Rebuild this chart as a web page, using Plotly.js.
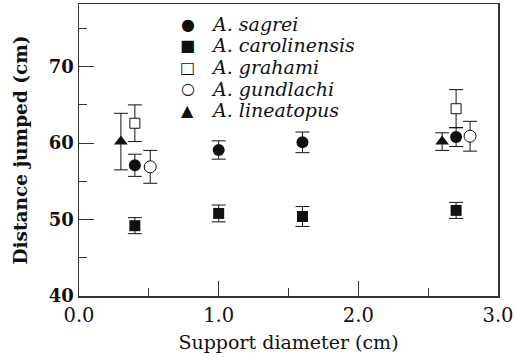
<!DOCTYPE html>
<html>
<head>
<meta charset="utf-8">
<script src="https://cdn.plot.ly/plotly-3.0.1.min.js"></script>
<style>html,body{margin:0;padding:0;background:#fff;}#chart{width:515px;height:358px;}</style>
</head>
<body>
<div id="chart"></div>
<script>
// Species names (legend)
const species = ["A. sagrei", "A. carolinensis", "A. grahami", "A. gundlachi", "A. lineatopus"];

// Support diameter (cm), slightly offset per species as in the figure
const sagreiX = [0.40, 1.00, 1.60, 2.70];
const sagreiY = [57.1, 59.1, 60.1, 60.8];
const sagreiErr = [1.45, 1.2, 1.35, 1.25];

const carolinensisX = [0.40, 1.00, 1.60, 2.70];
const carolinensisY = [49.2, 50.8, 50.4, 51.2];
const carolinensisErr = [1.05, 1.1, 1.3, 1.05];

const grahamiX = [0.40, 2.70];
const grahamiY = [62.6, 64.5];
const grahamiErr = [2.4, 2.5];

const gundlachiX = [0.51, 2.80];
const gundlachiY = [56.9, 60.9];
const gundlachiErr = [2.15, 1.95];

const lineatopusX = [0.30, 2.60];
const lineatopusY = [60.2, 60.2];
const lineatopusErr = [3.7, 1.15];

// Legend glyphs
const legendGlyphs = ["\u25CF", "\u25A0", "\u25A1", "\u25CB", "\u25B2"];

const INK = "#111111";

function errBar(arr) {
  return {type: "data", array: arr, visible: true, color: INK, thickness: 1, width: 7};
}

const traces = [
  {x: lineatopusX, y: lineatopusY, error_y: errBar(lineatopusErr),
   marker: {symbol: "triangle-up", size: 12, color: INK}},
  {x: grahamiX, y: grahamiY, error_y: errBar(grahamiErr),
   marker: {symbol: "square", size: 10, color: "#ffffff", line: {color: INK, width: 1}}},
  {x: sagreiX, y: sagreiY, error_y: errBar(sagreiErr),
   marker: {symbol: "circle", size: 12, color: INK}},
  {x: carolinensisX, y: carolinensisY, error_y: errBar(carolinensisErr),
   marker: {symbol: "square", size: 11, color: INK}},
  {x: gundlachiX, y: gundlachiY, error_y: errBar(gundlachiErr),
   marker: {symbol: "circle", size: 12, color: "#ffffff", line: {color: INK, width: 1}}}
].map(t => Object.assign({type: "scatter", mode: "markers", showlegend: false, hoverinfo: "skip"}, t));

// Legend built from annotations (row layout)
const annotations = [];
const rowTop = 24, rowStep = 21.5, plotTop = 4, plotH = 292;
species.forEach((name, i) => {
  const py = rowTop + i * rowStep;
  const yp = (plotTop + plotH - py) / plotH;
  annotations.push({xref: "paper", yref: "paper", x: 0.260, y: yp, xanchor: "center", yanchor: "middle",
    text: legendGlyphs[i], showarrow: false, borderpad: 0, font: {family: "DejaVu Sans", size: 16, color: INK}});
  annotations.push({xref: "paper", yref: "paper", x: 0.313, y: yp, xanchor: "left", yanchor: "middle",
    text: "<i>" + name + "</i>", showarrow: false, borderpad: 0, font: {family: "DejaVu Serif", size: 19, color: INK}});
});

const axisCommon = {
  showline: true, mirror: true, linecolor: "#333333", linewidth: 1.5,
  showgrid: false, zeroline: false,
  ticks: "inside", ticklen: 15, tickwidth: 1, tickcolor: "#333333",
};

const layout = {
  width: 515, height: 358,
  margin: {l: 79, r: 17, t: 4, b: 62},
  paper_bgcolor: "#ffffff", plot_bgcolor: "#ffffff",
  font: {family: "DejaVu Serif", color: INK, size: 17},
  showlegend: false,
  xaxis: Object.assign({}, axisCommon, {
    range: [0, 3], tick0: 0, dtick: 1, tickformat: ".1f",
    minor: {dtick: 0.5, ticks: "inside", ticklen: 8, tickwidth: 1, tickcolor: "#333333"},
    tickfont: {size: 19.5}, ticklabelstandoff: 1,
    title: {text: "Support diameter (cm)", font: {size: 19}, standoff: 10}
  }),
  yaxis: Object.assign({}, axisCommon, {
    range: [40, 78.2], tick0: 40, dtick: 10,
    minor: {dtick: 5, ticks: "inside", ticklen: 8, tickwidth: 1, tickcolor: "#333333"},
    tickfont: {size: 18, weight: "bold"},
    title: {text: "Distance jumped (cm)", font: {size: 18.5, weight: "bold"}, standoff: 16}
  }),
  annotations: annotations
};

Plotly.newPlot("chart", traces, layout, {staticPlot: true, displayModeBar: false});
</script>
</body>
</html>
